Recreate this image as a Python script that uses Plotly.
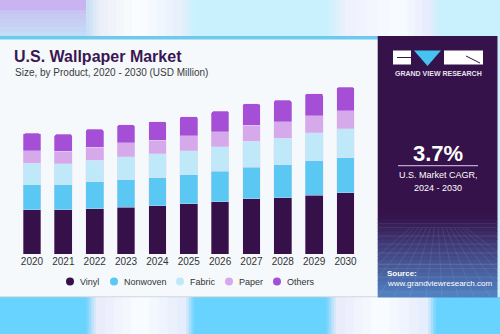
import plotly.graph_objects as go

# ---------------- data (USD Million) ----------------
years = ["2020", "2021", "2022", "2023", "2024", "2025", "2026", "2027", "2028", "2029", "2030"]
vinyl = [186.0, 186.0, 191.4, 197.3, 202.8, 211.3, 219.7, 232.4, 237.9, 248.0, 257.7]
nonwoven = [107.0, 105.6, 112.8, 117.0, 119.6, 123.8, 129.7, 133.9, 138.2, 144.9, 149.1]
fabric = [90.0, 88.7, 91.7, 97.2, 100.1, 101.4, 104.4, 109.9, 112.8, 118.3, 122.5]
paper = [53.7, 53.7, 54.9, 59.2, 57.9, 62.1, 63.4, 67.6, 68.9, 71.8, 76.1]
others = [73.1, 71.8, 76.1, 74.8, 79.0, 81.5, 85.8, 90.0, 91.7, 94.2, 98.4]
series_names = ["Vinyl", "Nonwoven", "Fabric", "Paper", "Others"]
highlight_year = "2022"
highlight_label = "$526.9M"

# ---------------- styling ----------------
W, H = 500, 334
FONT = "Liberation Sans, Arial, Helvetica, sans-serif"
colors = ["#361048", "#5bc8f3", "#bfe9f9", "#d6a9ea", "#a44fd5"]
legend_dot_x = [70, 114, 180, 229, 277]   # pixel positions of legend dots
CARD = "#f5f9fc"
PANEL = "#35124a"

series = [vinyl, nonwoven, fabric, paper, others]

fig = go.Figure()
for name, vals, col in zip(series_names, series, colors):
    fig.add_trace(go.Bar(
        x=years, y=vals, name=name, marker_color=col,
        marker_line=dict(color="rgba(235,215,245,0.7)", width=0.5),
        showlegend=False,
    ))


def px(x):
    return x / W


def py(y):
    return 1 - y / H


def hexmix(c1, c2, t):
    a = [int(c1[i:i + 2], 16) for i in (1, 3, 5)]
    b = [int(c2[i:i + 2], 16) for i in (1, 3, 5)]
    return "#" + "".join(f"{round(a[k] + (b[k] - a[k]) * t):02x}" for k in range(3))


shapes = []


def rect(x0, y0, x1, y1, color, layer="below"):
    shapes.append(dict(type="rect", xref="paper", yref="paper", x0=px(x0), x1=px(x1),
                       y0=py(y1), y1=py(y0), fillcolor=color, line=dict(width=0), layer=layer))


def hgrad(x0, x1, y0, y1, c0, c1, n=8):
    step = (x1 - x0) / n
    for i in range(n):
        rect(x0 + i * step, y0, x0 + (i + 1) * step + 0.5, y1, hexmix(c0, c1, (i + 0.5) / n))


def vgrad(x0, x1, y0, y1, c0, c1, n=12, layer="below"):
    step = (y1 - y0) / n
    for i in range(n):
        rect(x0, y0 + i * step, x1, y0 + (i + 1) * step + 0.5, hexmix(c0, c1, (i + 0.5) / n), layer)


# top background stripes
rect(0, 0, 88, 12, "#c9b4f1")
vgrad(0, 88, 10, 36, "#c8c2f2", "#c4def5", n=6)
hgrad(86, 100, 0, 36, "#c4def5", "#eceff8", n=4)
hgrad(100, 140, 0, 36, "#eceff8", "#fbfeff", n=5)
hgrad(140, 182, 0, 36, "#fbfeff", "#e6eefc", n=5)
hgrad(182, 194, 0, 36, "#e6eefc", "#c8f1fd", n=4)
rect(194, 0, 328, 36, "#c8f1fd")
hgrad(328, 345, 0, 36, "#c8f1fd", "#eef0fd", n=4)
hgrad(345, 400, 0, 36, "#eef0fd", "#f8fbff", n=5)
hgrad(400, 430, 0, 36, "#f8fbff", "#e6ebfd", n=4)
hgrad(430, 438, 0, 36, "#e6ebfd", "#c8f1fd", n=3)
rect(438, 0, 500, 36, "#c8f1fd")

# bottom background stripes
rect(0, 297, 86, 334, "#68d3fe")
hgrad(86, 96, 297, 334, "#68d3fe", "#e8e9fb", n=4)
hgrad(96, 140, 297, 334, "#e8e9fb", "#fafdff", n=5)
hgrad(140, 186, 297, 334, "#fafdff", "#e4ebfc", n=5)
hgrad(186, 194, 297, 334, "#e4ebfc", "#68d3fe", n=3)
rect(194, 297, 326, 334, "#68d3fe")
hgrad(326, 336, 297, 334, "#68d3fe", "#e8e9fb", n=4)
hgrad(336, 380, 297, 334, "#e8e9fb", "#fafdff", n=5)
hgrad(380, 428, 297, 334, "#fafdff", "#e4ebfc", n=5)
hgrad(428, 436, 297, 334, "#e4ebfc", "#68d3fe", n=3)
rect(436, 297, 500, 334, "#68d3fe")

# card edges
rect(0, 296.3, 378, 297.3, "#cfd6de")
rect(0, 36, 378, 39.5, "#6ecaec")
rect(497.5, 36, 500, 297, "#c8f1fd")

# dark right panel with blue gradient at bottom
rect(377.7, 36, 497.5, 215, PANEL)
vgrad(377.7, 497.5, 215, 297, PANEL, "#5283c4", n=20)
# perspective grid texture
for yy in [236, 244, 253, 264, 277, 292]:
    shapes.append(dict(type="line", xref="paper", yref="paper", x0=px(377.7), x1=px(497.5),
                       y0=py(yy), y1=py(yy), line=dict(color="rgba(190,210,255,0.18)", width=0.7),
                       layer="below"))
for xb in range(330, 560, 16):
    xt = 437 + (xb - 437) * 0.25
    xe = min(max(xb, 377.7), 497.5)
    ye = 297 if 377.7 <= xb <= 497.5 else 228 + (297 - 228) * (xe - xt) / (xb - xt)
    shapes.append(dict(type="line", xref="paper", yref="paper", x0=px(xt), x1=px(xe),
                       y0=py(228), y1=py(ye),
                       line=dict(color="rgba(190,210,255,0.16)", width=0.7), layer="below"))

# logo
rect(393, 50.5, 411, 64.5, "#ffffff")
shapes.append(dict(type="line", xref="paper", yref="paper", x0=px(397), x1=px(411),
                   y0=py(57.5), y1=py(57.5), line=dict(color="#35124a", width=1), layer="below"))
shapes.append(dict(type="path", xref="paper", yref="paper",
                   path=f"M {px(414)} {py(50.5)} L {px(441)} {py(50.5)} L {px(427.5)} {py(66)} Z",
                   fillcolor="#46c3f0", line=dict(width=0), layer="below"))
rect(444, 50.5, 483, 64.5, "#ffffff")
shapes.append(dict(type="line", xref="paper", yref="paper", x0=px(466), x1=px(480),
                   y0=py(56), y1=py(63), line=dict(color="#35124a", width=1), layer="below"))
# CAGR divider
shapes.append(dict(type="line", xref="paper", yref="paper", x0=px(398), x1=px(478),
                   y0=py(165.7), y1=py(165.7), line=dict(color="#b9a6cf", width=1.2), layer="below"))

annotations = [
    dict(text="<b>U.S. Wallpaper Market</b>", x=px(12), y=py(57), xanchor="left", yanchor="middle",
         font=dict(size=16, color="#3b1652", family=FONT)),
    dict(text="Size, by Product, 2020 - 2030 (USD Million)", x=px(12.5), y=py(72.5), xanchor="left",
         yanchor="middle", font=dict(size=10, color="#3a3a3a", family=FONT)),
    dict(text="<b>GRAND VIEW RESEARCH</b>", x=px(438), y=py(74), xanchor="center", yanchor="middle",
         font=dict(size=7, color="#e6e2ee", family=FONT)),
    dict(text="<b>3.7%</b>", x=px(438), y=py(153), xanchor="center", yanchor="middle",
         font=dict(size=22, color="#ffffff", family=FONT)),
    dict(text="U.S. Market CAGR,", x=px(438), y=py(175.5), xanchor="center", yanchor="middle",
         font=dict(size=9, color="#ffffff", family=FONT)),
    dict(text="2024 - 2030", x=px(438), y=py(187.5), xanchor="center", yanchor="middle",
         font=dict(size=9, color="#ffffff", family=FONT)),
    dict(text="<b>Source:</b>", x=px(385), y=py(273), xanchor="left", yanchor="middle",
         font=dict(size=8, color="#ffffff", family=FONT)),
    dict(text="www.grandviewresearch.com", x=px(385), y=py(283), xanchor="left", yanchor="middle",
         font=dict(size=8, color="#ffffff", family=FONT)),
]

# legend (dots + labels)
LEG_Y = 281.5
for name, col, dx in zip(series_names, colors, legend_dot_x):
    shapes.append(dict(type="circle", xref="paper", yref="paper",
                       x0=px(dx - 4), x1=px(dx + 4), y0=py(LEG_Y + 4), y1=py(LEG_Y - 4),
                       fillcolor=col, line=dict(width=0), layer="above"))
    annotations.append(dict(text=name, x=px(dx + 7.5), y=py(LEG_Y), xanchor="left", yanchor="middle",
                            font=dict(size=9, color="#333333", family=FONT)))

for a in annotations:
    a.update(xref="paper", yref="paper", showarrow=False)

hi = years.index(highlight_year)
total_hi = sum(s[hi] for s in series)
annotations.append(dict(text=highlight_label, x=highlight_year, y=total_hi, xref="x", yref="y",
                        showarrow=False, yanchor="bottom", yshift=3,
                        font=dict(size=10, color="#333333", family=FONT)))

fig.update_layout(
    width=W, height=H, margin=dict(l=0, r=0, t=0, b=0, pad=0),
    paper_bgcolor=CARD, plot_bgcolor="rgba(0,0,0,0)",
    barmode="stack", bargap=0.435, barcornerradius=2,
    shapes=shapes, annotations=annotations,
    font=dict(family=FONT),
    xaxis=dict(domain=[px(16.3), px(361.2)], type="category", range=[-0.5, 10.5],
               showgrid=False, zeroline=False, showline=False, ticks="",
               tickfont=dict(size=10, color="#333333", family=FONT), fixedrange=True),
    yaxis=dict(domain=[py(254), py(80)], range=[0, 735], visible=False, fixedrange=True),
    showlegend=False,
)

fig.write_html("out.html")
